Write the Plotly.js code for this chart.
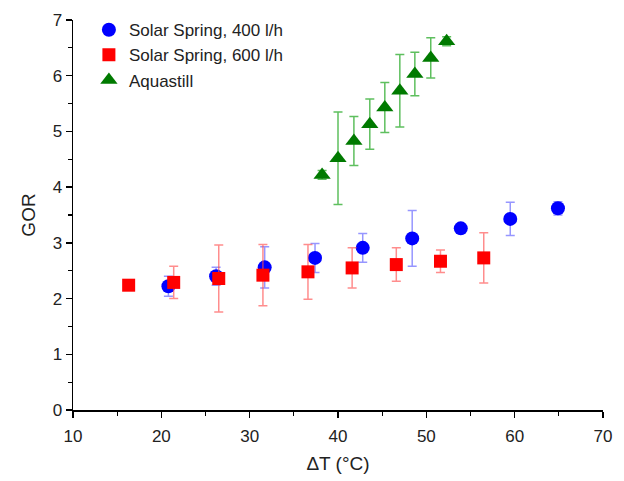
<!DOCTYPE html>
<html>
<head>
<meta charset="utf-8">
<script src="https://cdn.plot.ly/plotly-3.0.1.min.js"></script>
<style>
  html, body { margin: 0; padding: 0; background: #fff; }
  #chart { width: 624px; height: 481px; }
</style>
</head>
<body>
<div id="chart"></div>
<script>
// GOR versus temperature difference for the three distillation units
const seriesNames = ["Solar Spring, 400 l/h", "Solar Spring, 600 l/h", "Aquastill"];

const ss400_dT  = [20.8, 26.2, 31.7, 37.4, 42.8, 48.4, 53.9, 59.5, 64.9];
const ss400_gor = [2.22, 2.40, 2.56, 2.73, 2.91, 3.08, 3.26, 3.43, 3.62];
const ss400_err = [0.18, 0.16, 0.37, 0.26, 0.26, 0.50, 0.05, 0.30, 0.12];

const ss600_dT  = [16.3, 21.4, 26.5, 31.5, 36.6, 41.6, 46.6, 51.6, 56.5];
const ss600_gor = [2.24, 2.29, 2.36, 2.42, 2.48, 2.55, 2.61, 2.67, 2.73];
const ss600_err = [0.00, 0.29, 0.60, 0.55, 0.49, 0.36, 0.30, 0.20, 0.45];

const aqua_dT  = [38.2, 40.0, 41.8, 43.6, 45.3, 47.0, 48.7, 50.5, 52.3];
const aqua_gor = [4.22, 4.52, 4.83, 5.13, 5.43, 5.73, 6.03, 6.32, 6.62];
const aqua_err = [0.08, 0.83, 0.44, 0.45, 0.45, 0.65, 0.39, 0.36, 0.08];

const xTicks = [10, 20, 30, 40, 50, 60, 70];
const yTicks = [0, 1, 2, 3, 4, 5, 6, 7];

const font = "Liberation Sans, Arial, sans-serif";

function errBars(arr, color) {
  return { type: "data", array: arr, visible: true, color: color, thickness: 1.5, width: 4.5 };
}

const traces = [
  {
    name: seriesNames[0], x: ss400_dT, y: ss400_gor, type: "scatter", mode: "markers",
    marker: { symbol: "circle", size: 14, color: "#0000ff" },
    error_y: errBars(ss400_err, "rgba(80,80,255,0.6)")
  },
  {
    name: seriesNames[1], x: ss600_dT, y: ss600_gor, type: "scatter", mode: "markers",
    marker: { symbol: "square", size: 13, color: "#ff0000" },
    error_y: errBars(ss600_err, "rgba(255,80,80,0.65)")
  },
  {
    name: seriesNames[2], x: aqua_dT, y: aqua_gor, type: "scatter", mode: "markers",
    marker: { symbol: "triangle-up", size: 15, color: "#007a00" },
    error_y: errBars(aqua_err, "rgba(40,170,40,0.75)")
  }
];

const axisCommon = {
  showline: true, linecolor: "#000", linewidth: 1.5,
  ticks: "outside", ticklen: 6, tickwidth: 1.5, tickcolor: "#000",
  showgrid: false, zeroline: false, mirror: false,
  tickfont: { family: font, size: 17, color: "#222" }
};

const layout = {
  width: 624, height: 481,
  margin: { l: 73, r: 21, t: 18, b: 71 },
  paper_bgcolor: "#fff", plot_bgcolor: "#fff",
  showlegend: true,
  legend: {
    x: 0.03, y: 1.02, xanchor: "left", yanchor: "top",
    bgcolor: "rgba(0,0,0,0)", borderwidth: 0,
    font: { family: font, size: 17, color: "#222" },
    tracegroupgap: 0
  },
  xaxis: Object.assign({}, axisCommon, {
    range: [10, 70], tickmode: "array", tickvals: xTicks, ticktext: xTicks.map(String),
    ticklabelstandoff: 4,
    minor: { dtick: 5, tick0: 10, ticks: "outside", ticklen: 4, tickwidth: 1.2, tickcolor: "#000", showgrid: false },
    title: { text: "ΔT (°C)", font: { family: font, size: 19, color: "#222" }, standoff: 12 }
  }),
  yaxis: Object.assign({}, axisCommon, {
    range: [0, 7], tickmode: "array", tickvals: yTicks, ticktext: yTicks.map(String),
    minor: { dtick: 0.5, tick0: 0, ticks: "outside", ticklen: 4, tickwidth: 1.2, tickcolor: "#000", showgrid: false },
    title: { text: "GOR", font: { family: font, size: 19, color: "#222" }, standoff: 12 }
  })
};

Plotly.newPlot("chart", traces, layout, { displayModeBar: false, staticPlot: true });
</script>
</body>
</html>
